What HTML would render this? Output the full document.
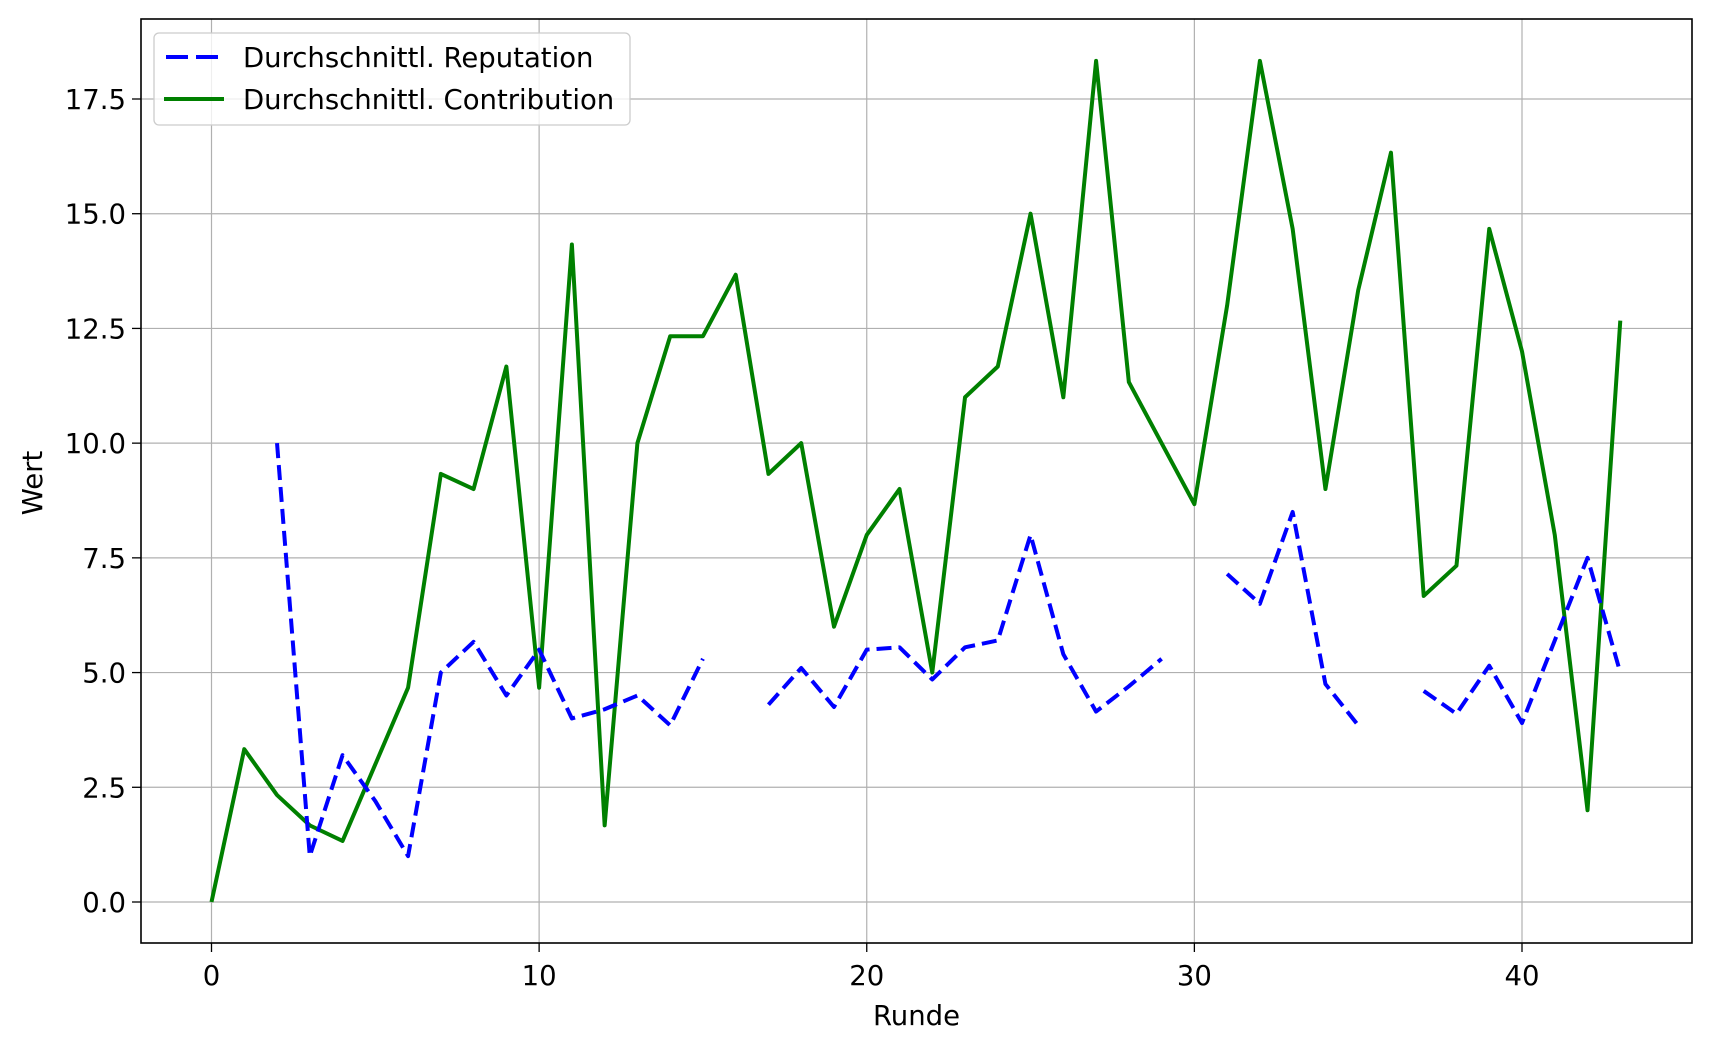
<!DOCTYPE html>
<html><head><meta charset="utf-8"><style>
html,body{margin:0;padding:0;background:#fff}
svg{display:block;font-family:"DejaVu Sans","Liberation Sans",sans-serif}
</style></head><body>
<svg id="chart" width="1710" height="1050" viewBox="0 0 1710 1050">
<rect x="0" y="0" width="1710" height="1050" fill="#fff"/>
<g id="grid"></g><g id="series"></g><g id="axes"></g>
</svg>
<script>
const rounds = Array.from({length:44},(_,i)=>i);
const contribution = [0,3.33,2.33,1.67,1.33,3,4.67,9.33,9,11.67,4.67,14.33,1.67,10,12.33,12.33,13.67,9.33,10,6,8,9,5,11,11.67,15,11,18.33,11.33,10,8.67,13,18.33,14.67,9,13.33,16.33,6.67,7.33,14.67,12,8,2,12.67];
const reputation = [null,null,10,1,3.2,2.2,1,5,5.67,4.5,5.5,4,4.2,4.5,3.85,5.3,null,4.3,5.1,4.25,5.5,5.55,4.85,5.55,5.7,8,5.4,4.15,4.7,5.3,null,7.15,6.5,8.5,4.75,3.85,null,4.6,4.1,5.15,3.9,5.7,7.5,5];
const xTicks = [0,10,20,30,40];
const yTicks = [0,2.5,5,7.5,10,12.5,15,17.5];
const yTickLabels = ["0.0","2.5","5.0","7.5","10.0","12.5","15.0","17.5"];

const L=141,R=1692,T=19,B=943;
const xs=v=>211.5+v*(1522-211.5)/40;
const ys=v=>902-v*(902-99)/17.5;
const NS="http://www.w3.org/2000/svg";
function mk(tag,attrs,parent){const e=document.createElementNS(NS,tag);for(const k in attrs)e.setAttribute(k,attrs[k]);parent.appendChild(e);return e;}
const grid=document.getElementById('grid'),series=document.getElementById('series'),axes=document.getElementById('axes');
const FS=27.5;

xTicks.forEach(t=>{
  const g=mk('line',{x1:xs(t),x2:xs(t),y1:T,y2:B,stroke:'#b0b0b0','stroke-width':1.2},grid);
  
  
  mk('line',{x1:xs(t),x2:xs(t),y1:B,y2:B+9,stroke:'#000','stroke-width':1.3},axes);
  const tx=mk('text',{x:xs(t),y:B+42,'font-size':FS,'text-anchor':'middle',fill:'#000'},axes);
  tx.textContent=t;
  
  
});
yTicks.forEach((t,i)=>{
  const g=mk('line',{x1:L,x2:R,y1:ys(t),y2:ys(t),stroke:'#b0b0b0','stroke-width':1.2},grid);
  
  
  mk('line',{x1:L-9,x2:L,y1:ys(t),y2:ys(t),stroke:'#000','stroke-width':1.3},axes);
  const tx=mk('text',{x:L-15,y:ys(t)+10,'font-size':FS,'text-anchor':'end',fill:'#000'},axes);
  tx.textContent=yTickLabels[i];
  
  
});

let d='';
contribution.forEach((v,i)=>{d+=(i?'L':'M')+xs(rounds[i])+' '+ys(v)+' ';});
const cl=mk('path',{d:d,fill:'none',stroke:'#008000','stroke-width':4,'stroke-linejoin':'round'},series);



let d2='',pen=false;
reputation.forEach((v,i)=>{
  if(v===null){pen=false;return;}
  d2+=(pen?'L':'M')+xs(rounds[i])+' '+ys(v)+' ';pen=true;
});
const rl=mk('path',{d:d2,fill:'none',stroke:'#0000ff','stroke-width':4,'stroke-dasharray':'15,7','stroke-linejoin':'round'},series);



const frame=mk('rect',{x:L,y:T,width:R-L,height:B-T,fill:'none',stroke:'#000','stroke-width':1.6},axes);



const xl=mk('text',{x:(L+R)/2,y:1025,'font-size':FS,'text-anchor':'middle'},axes);
xl.textContent='Runde';


const yl=mk('text',{x:0,y:0,'font-size':FS,'text-anchor':'middle',transform:'translate(42,483) rotate(-90)'},axes);
yl.textContent='Wert';



const lg=mk('g',{},axes);


mk('rect',{x:154,y:33,width:476,height:92,rx:5,fill:'#fff','fill-opacity':0.8,stroke:'#cccccc','stroke-width':1.3},lg);
mk('line',{x1:166,x2:218,y1:57,y2:57,stroke:'#0000ff','stroke-width':4,'stroke-dasharray':'22,8'},lg);
mk('line',{x1:164,x2:224,y1:99,y2:99,stroke:'#008000','stroke-width':4},lg);
const e1=mk('text',{x:243,y:67,'font-size':FS},lg);
e1.textContent='Durchschnittl. Reputation';


const e2=mk('text',{x:243,y:109,'font-size':FS},lg);
e2.textContent='Durchschnittl. Contribution';


</script>
</body></html>
